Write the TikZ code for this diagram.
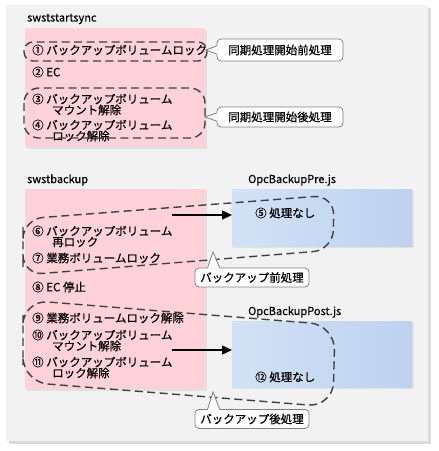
\documentclass[tikz,border=0pt]{standalone}
\usepackage{fontspec}
\setmainfont{Noto Sans CJK JP}[FakeBold=0.5]
\usetikzlibrary{arrows.meta,calc,shadows}

\definecolor{panelgray}{HTML}{F2F2F2}
\definecolor{scriptpink}{HTML}{FFD1D9}
\definecolor{scriptblue}{HTML}{BDD2EF}
\definecolor{scriptbluelt}{HTML}{D2E2F6}
\definecolor{dashgray}{HTML}{404040}
\definecolor{callgray}{HTML}{808080}

\tikzset{
  txt/.style={anchor=west, inner sep=0pt, font=\fontsize{11.5}{12}\selectfont},
  cmdname/.style={anchor=west, inner sep=0pt, font=\fontsize{11}{12}\selectfont},
  pinkbox/.style={anchor=north west, inner sep=0pt, fill=scriptpink,
    minimum width=180pt, drop shadow={shadow xshift=1.5pt, shadow yshift=-1.5pt, opacity=0.15}},
  bluebox/.style={anchor=north west, inner sep=0pt, left color=scriptbluelt, right color=scriptblue,
    minimum width=180pt, drop shadow={shadow xshift=1.5pt, shadow yshift=-1.5pt, opacity=0.15}},
  grouping/.style={draw=dashgray, line width=1.4pt, dash pattern=on 8pt off 4.5pt},
  callbox/.style={draw=callgray, fill=white, line width=0.8pt, rounded corners=4pt,
    inner sep=0pt, font=\fontsize{11.5}{12}\selectfont},
  pointer/.style={draw=callgray, line width=0.8pt},
  flow/.style={line width=1.4pt, -{Triangle[length=10pt,width=9pt]}},
}

\begin{document}
\begin{tikzpicture}[x=1pt,y=-1pt]
  \useasboundingbox (0,0) rectangle (439,451);
  % panel and its shadow
  \fill[black!14] (9,8) rectangle (431,444);
  \fill[panelgray] (6,5) rectangle (428,441);

  % swststartsync
  \node[cmdname] (sync) at (27,19) {swststartsync};
  \node[pinkbox, minimum height=119pt] (syncbox) at (25,28) {};
  \node[txt] (s1) at (32,50) {① バックアップボリュームロック};
  \node[txt] (s2) at (32,72) {② EC};
  \node[txt] (s3a) at (32,99) {③ バックアップボリューム};
  \node[txt] (s3b) at (52,110) {マウント解除};
  \node[txt] (s4a) at (32,125) {④ バックアップボリューム};
  \node[txt] (s4b) at (52,136) {ロック解除};
  \draw[grouping, rounded corners=9pt] (24,42) rectangle (207,61);
  \draw[grouping, rounded corners=15pt] (24,88) rectangle (205,138);

  % swstbackup
  \node[cmdname] (backup) at (27,180) {swstbackup};
  \node[pinkbox, minimum height=200pt] (backupbox) at (25,189) {};
  \node[cmdname] (prejs) at (248,180) {OpcBackupPre.js};
  \node[bluebox, minimum height=57pt] (prebox) at (232,189) {};
  \node[cmdname] (postjs) at (248,312) {OpcBackupPost.js};
  \node[bluebox, minimum height=66pt] (postbox) at (232,321) {};

  \node[txt] (s5) at (255,213) {⑤ 処理なし};
  \node[txt] (s6a) at (32,231) {⑥ バックアップボリューム};
  \node[txt] (s6b) at (52,242) {再ロック};
  \node[txt] (s7) at (32,258) {⑦ 業務ボリュームロック};
  \node[txt] (s8) at (32,287) {⑧ EC 停止};
  \node[txt] (s9) at (32,318) {⑨ 業務ボリュームロック解除};
  \node[txt] (s10a) at (32,335) {⑩ バックアップボリューム};
  \node[txt] (s10b) at (52,346) {マウント解除};
  \node[txt] (s11a) at (32,362) {⑪ バックアップボリューム};
  \node[txt] (s11b) at (52,373) {ロック解除};
  \node[txt] (s12) at (255,377) {⑫ 処理なし};

  % calls into the scripts
  \coordinate (preFrom) at (172,215);
  \coordinate (postFrom) at (172,350);
  \draw[flow] (preFrom) -- (prebox.west |- preFrom);
  \draw[flow] (postFrom) -- (postbox.west |- postFrom);

  % pre / post groups
  \draw[grouping, rounded corners=20pt] (23,247) -- (23,219) -- (334,195) -- (333,250) -- (23,275) -- cycle;
  \draw[grouping, rounded corners=25pt] (23,340) -- (23,300) -- (335,325) -- (333,407) -- (23,382) -- cycle;

  % callouts
  \node[callbox, minimum width=126pt, minimum height=22pt] (syncpre) at (280,50) {同期処理開始前処理};
  \node[callbox, minimum width=126pt, minimum height=20pt] (syncpost) at (280,117) {同期処理開始後処理};
  \node[callbox, minimum width=114pt, minimum height=19pt] (pre) at (252,277.5) {バックアップ前処理};
  \node[callbox, minimum width=114pt, minimum height=19pt] (post) at (252,419) {バックアップ後処理};

  \coordinate (syncpreTip) at (206,50);
  \coordinate (syncpostTip) at (205,117);
  \coordinate (preTip) at (213,252);
  \coordinate (postTip) at (213,392);
  \fill[white] ($(syncpre.west)+(1,-4)$) -- (syncpreTip) -- ($(syncpre.west)+(1,4)$) -- cycle;
  \draw[pointer] ($(syncpre.west)+(0,-4)$) -- (syncpreTip) -- ($(syncpre.west)+(0,4)$);
  \fill[white] ($(syncpost.west)+(1,-4)$) -- (syncpostTip) -- ($(syncpost.west)+(1,4)$) -- cycle;
  \draw[pointer] ($(syncpost.west)+(0,-4)$) -- (syncpostTip) -- ($(syncpost.west)+(0,4)$);
  \fill[white] ($(pre.north west)+(13,1)$) -- (preTip) -- ($(pre.north west)+(25,1)$) -- cycle;
  \draw[pointer] ($(pre.north west)+(13,0)$) -- (preTip) -- ($(pre.north west)+(25,0)$);
  \fill[white] ($(post.north west)+(13,1)$) -- (postTip) -- ($(post.north west)+(25,1)$) -- cycle;
  \draw[pointer] ($(post.north west)+(13,0)$) -- (postTip) -- ($(post.north west)+(25,0)$);
\end{tikzpicture}
\end{document}
